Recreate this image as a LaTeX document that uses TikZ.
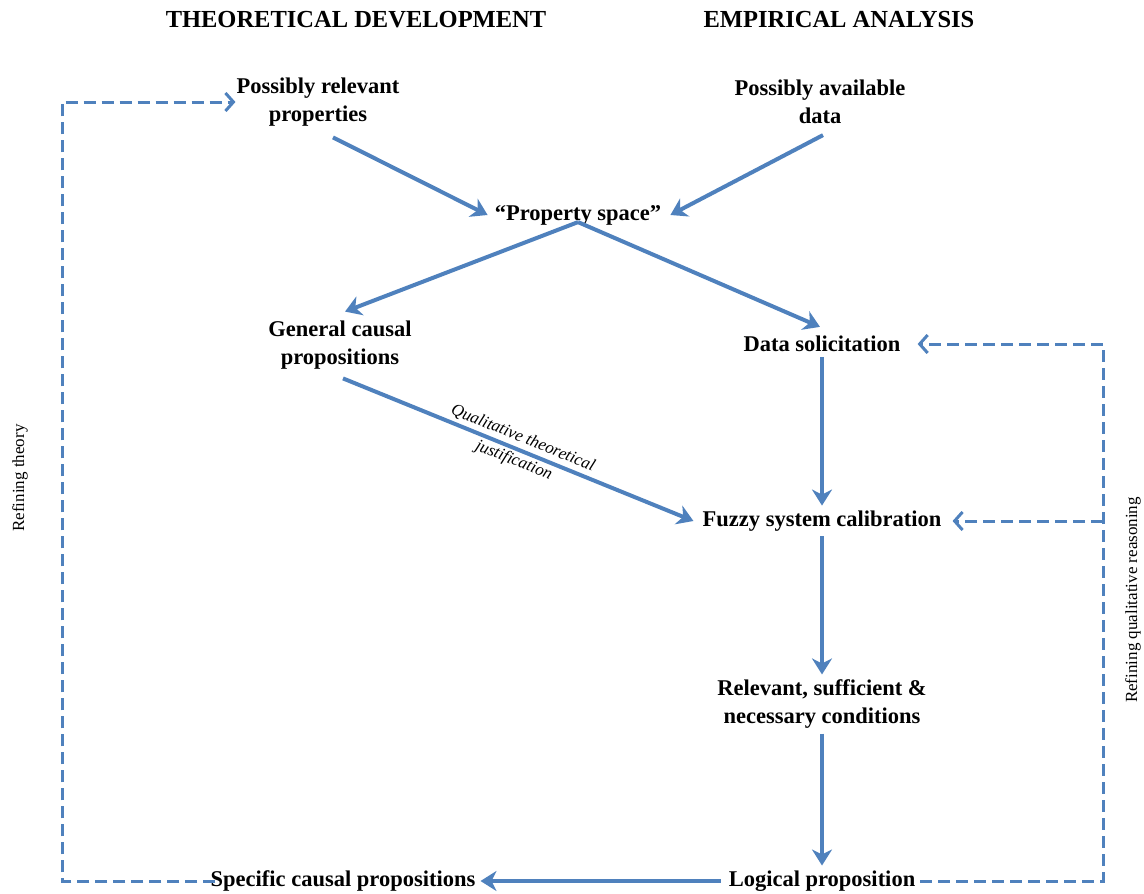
\documentclass[tikz,border=0pt]{standalone}
\usepackage{fontspec}
\setmainfont{Liberation Serif}
\usetikzlibrary{arrows.meta}
\definecolor{flowblue}{RGB}{79,129,189}

\begin{document}
\begin{tikzpicture}[x=1pt,y=-1pt,
    box/.style={font=\bfseries\fontsize{22.5}{28}\selectfont, align=center, inner sep=5pt},
    heading/.style={font=\bfseries\fontsize{24.5}{28}\selectfont},
    side/.style={font=\fontsize{17}{20}\selectfont, rotate=90},
    flow/.style={draw=flowblue, line width=4pt, -{Stealth[length=16pt,width=20pt,inset=5pt]}},
    loopback/.style={draw=flowblue, line width=3pt, dash pattern=on 12pt off 6pt,
        -{Straight Barb[length=8pt,width=18pt]}}]

                \useasboundingbox (0,0) rectangle (1144,894);

                \node[heading] (theory) at (356,20) {THEORETICAL DEVELOPMENT};
                \node[heading] (empiric) at (839,20) {EMPIRICAL ANALYSIS};

                \node[box] (relprop) at (318,102) {Possibly relevant\\properties};
                \node[box] (avdata)  at (820,102) {Possibly available\\data};
                \node[box] (space)   at (578,215) {``Property space''};
                \node[box] (general) at (340,345) {General causal\\propositions};
                \node[box] (datasol) at (822,344) {Data solicitation};
                \node[box] (fuzzy)   at (822,521) {Fuzzy system calibration};
                \node[box] (conds)   at (822,704) {Relevant, sufficient \&\\necessary conditions};
                \node[box] (logical) at (822,881) {Logical proposition};
                \node[box] (specific) at (343,881) {Specific causal propositions};

                \node[side] (reftheory) at (20,478) {Refining theory};
                \node[side] (refqual) at (1133,600) {Refining qualitative reasoning};

                % solid flow
                \coordinate (apex) at ([yshift=8pt]space.south);
                \draw[flow] ([shift={(15,6)}]relprop.south) -- ([xshift=-2pt]space.west);
                \draw[flow] ([shift={(3,6)}]avdata.south) -- ([xshift=4pt]space.east);
                \draw[flow] (apex) -- ([shift={(5,-4)}]general.north);
                \draw[flow] (apex) -- ([shift={(-2,-4)}]datasol.north);
                \draw[flow] ([shift={(3,4)}]general.south) -- ([xshift=-4pt]fuzzy.west)
                    node[midway, sloped, align=center, font=\itshape\fontsize{17}{24}\selectfont] {Qualitative theoretical\\justification};
                \draw[flow] (datasol.south) -- (fuzzy.north);
                \draw[flow] (fuzzy.south) -- (conds.north);
                \draw[flow] (conds.south) -- (logical.north);
                \draw[flow] ([xshift=-3pt]logical.west) -- (specific.east);

                % dashed feedback
                \coordinate (leftrail) at (62,881);
                \coordinate (rightrail) at (1103,881);
                \draw[loopback] ([xshift=10pt]specific.west) -- (leftrail) |- ([xshift=4pt]relprop.west);
                \draw[loopback] (logical.east) -- (rightrail) |- ([xshift=12pt]datasol.east);
                \draw[loopback] (rightrail |- fuzzy) -- ([xshift=6pt]fuzzy.east);
            \end{tikzpicture}
\end{document}
